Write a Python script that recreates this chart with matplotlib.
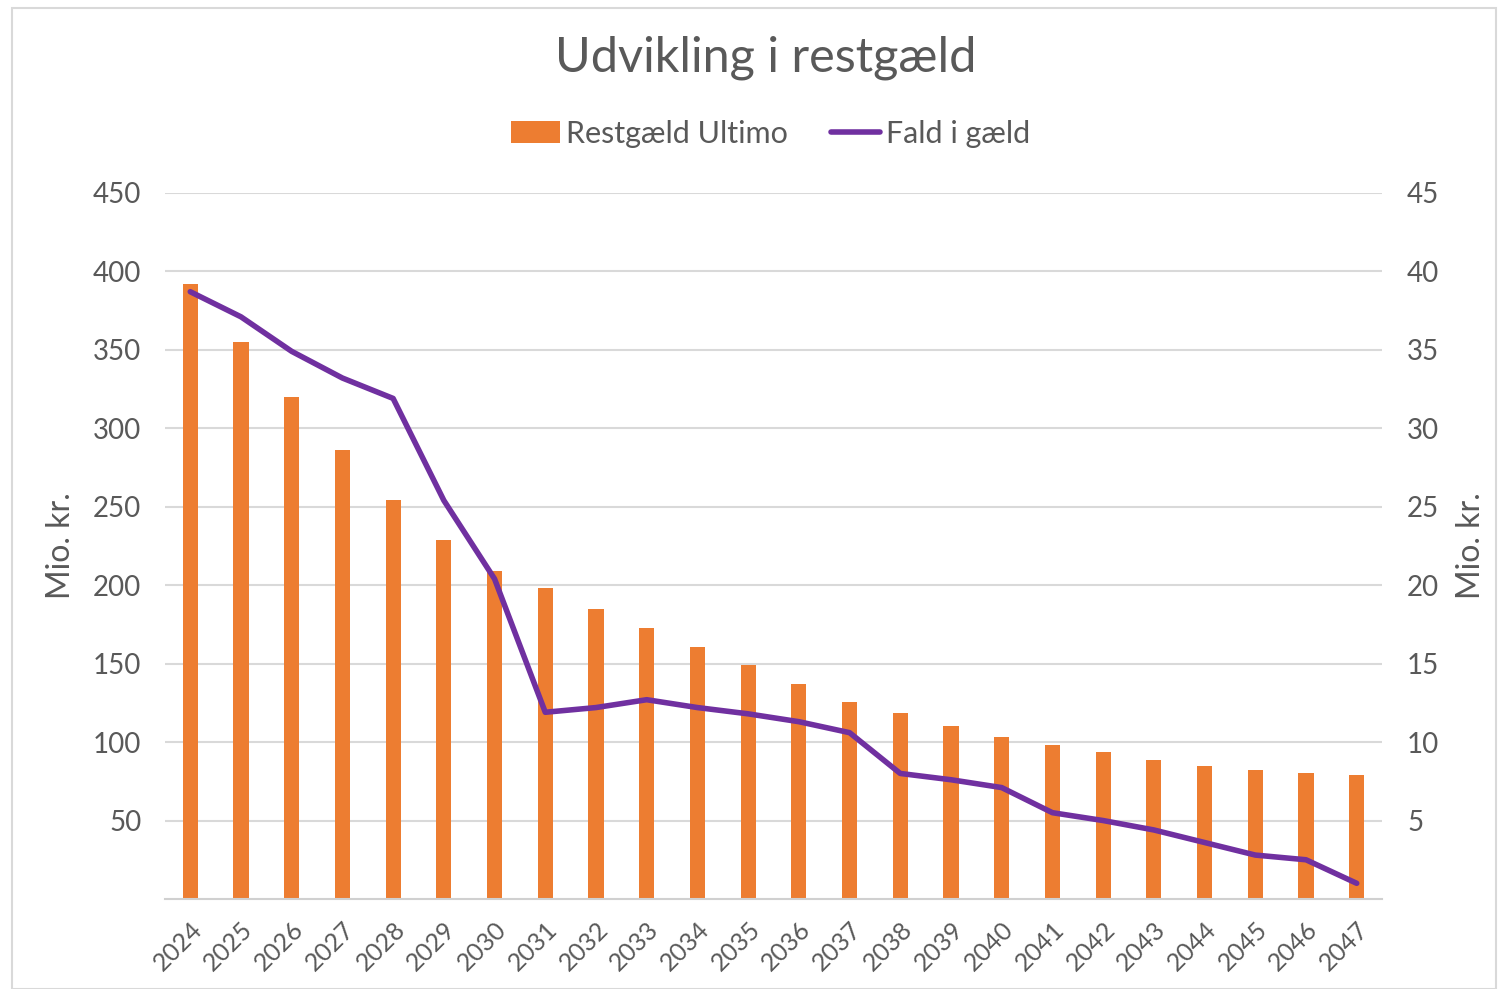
import matplotlib
matplotlib.use("Agg")
from matplotlib import pyplot as plt
from matplotlib.patches import Rectangle

years = [str(y) for y in range(2024, 2048)]
restgaeld = [392, 355, 320, 286, 254, 229, 209, 198, 184.5, 172.5, 160.5, 149,
             137, 125.5, 118.5, 110, 103, 98, 93.5, 88.5, 84.5, 82.5, 80, 79]
fald = [38.7, 37.1, 34.9, 33.2, 31.9, 25.4, 20.4, 11.9, 12.2, 12.7, 12.2, 11.8,
        11.3, 10.6, 8.0, 7.6, 7.1, 5.5, 5.0, 4.4, 3.6, 2.8, 2.5, 1.0]
left_ticks = [50, 100, 150, 200, 250, 300, 350, 400, 450]
right_ticks = [5, 10, 15, 20, 25, 30, 35, 40, 45]

plt.rcParams["font.family"] = ["Lato", "DejaVu Sans"]
txt = "#595959"
bar_col = "#ED7D31"
line_col = "#7030A0"

fig = plt.figure(figsize=(14.99, 9.89), dpi=100)
fig.patches.append(Rectangle((0.008, 0.0), 0.99, 0.992, transform=fig.transFigure,
                             fill=False, edgecolor="#d9d9d9", linewidth=1.5))
ax = fig.add_axes([0.110, 0.091, 0.812, 0.714])
x = list(range(len(years)))
bars = ax.bar(x, restgaeld, width=0.3, color=bar_col, label="Restgæld Ultimo", zorder=2)
ax.set_xlim(-0.5, len(years) - 0.5)
ax.set_ylim(0, 450)
ax.set_yticks(left_ticks)
ax.grid(axis="y", color="#d9d9d9", linewidth=1.5, zorder=0)
ax.set_axisbelow(True)
for s in ["top", "left", "right"]:
    ax.spines[s].set_visible(False)
ax.spines["bottom"].set_color("#d0d0d0")
ax.spines["bottom"].set_linewidth(1.5)
ax.tick_params(length=0, labelsize=20, colors=txt, pad=17)
ax.set_xticks(x)
ax.set_xticklabels(years, rotation=45, ha="right", rotation_mode="anchor", fontsize=18)
ax.tick_params(axis="x", pad=13)
ax.set_ylabel("Mio. kr.", fontsize=23, color=txt, labelpad=12)

ax2 = ax.twinx()
line, = ax2.plot(x, fald, color=line_col, linewidth=4, label="Fald i gæld",
                 solid_joinstyle="round", solid_capstyle="round", zorder=3)
ax2.set_ylim(0, 45)
ax2.set_yticks(right_ticks)
for s in ["top", "left", "right", "bottom"]:
    ax2.spines[s].set_visible(False)
ax2.tick_params(length=0, labelsize=20, colors=txt, pad=18)
ax2.set_ylabel("Mio. kr.", fontsize=23, color=txt, labelpad=12)

fig.text(0.511, 0.942, "Udvikling i restgæld", ha="center", va="center",
         fontsize=35, color=txt)
fig.legend([bars, line], ["Restgæld Ultimo", "Fald i gæld"], loc="center",
           bbox_to_anchor=(0.514, 0.865), ncol=2, frameon=False, fontsize=22,
           labelcolor=txt, handlelength=1.6, handletextpad=0.2, columnspacing=1.4)

fig.savefig("out.png", dpi=100)
